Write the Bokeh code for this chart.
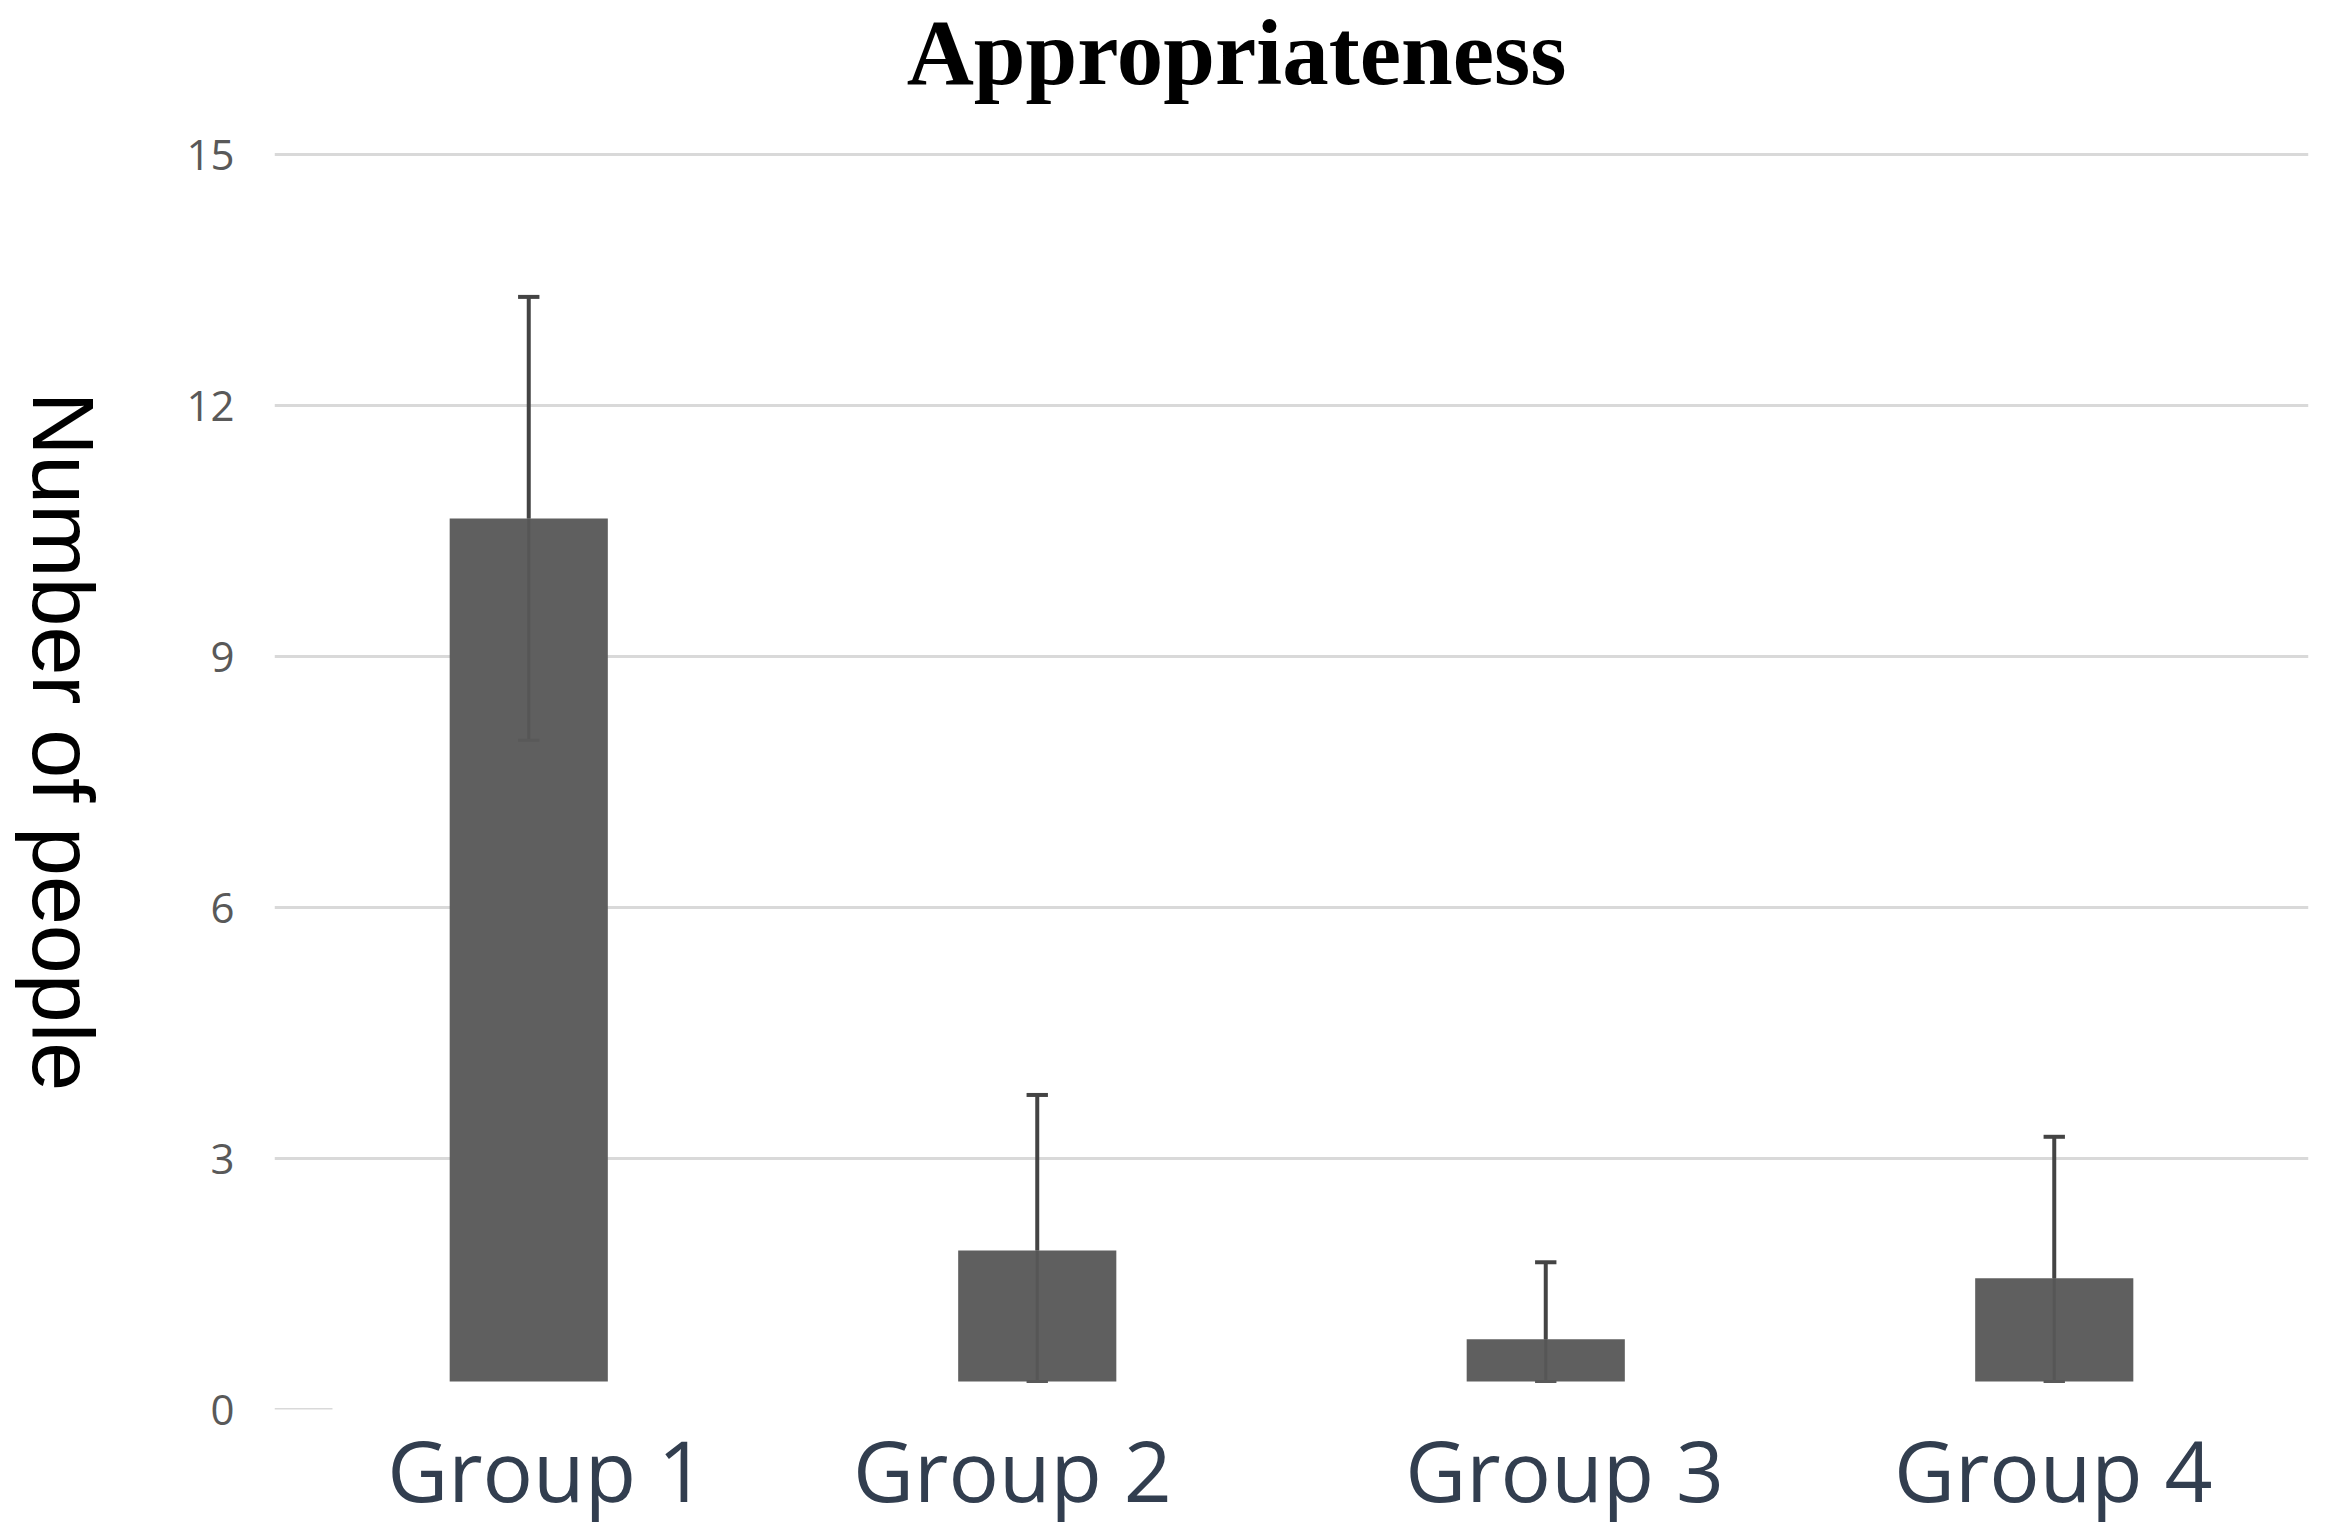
import math
from bokeh.plotting import figure
from bokeh.layouts import row, column
from bokeh.models import Range1d, FixedTicker, ColumnDataSource
from bokeh.core.properties import value
from bokeh.embed import file_html
from bokeh.resources import INLINE

# ---- data ----
groups = ["Group 1", "Group 2", "Group 3", "Group 4"]
means = [10.65, 1.90, 0.84, 1.57]
errors = [2.65, 1.86, 0.92, 1.69]
bar_base = 0.335
y_ticks = [0, 3, 6, 9, 12, 15]
title_text = "Appropriateness"
y_label = "Number of people"

# style: small horizontal shifts of category labels (in category widths)
label_shift = [0.035, -0.049, 0.037, -0.002]

xs = [i + 0.5 for i in range(len(groups))]
upper = [m + e for m, e in zip(means, errors)]
lower = [max(m - e, bar_base) for m, e in zip(means, errors)]
cap_half = 0.021

src = ColumnDataSource(dict(
    x=xs, top=means, up=upper, lo=lower,
    cx0=[x - cap_half for x in xs], cx1=[x + cap_half for x in xs],
))

W = 2340
H = 1531
TOP_H = 110
LEFT_W = 140
BODY_H = H - TOP_H


def blank(w, h):
    f = figure(width=w, height=h, output_backend="svg", toolbar_location=None,
               x_range=Range1d(0, w), y_range=Range1d(0, h),
               x_axis_type=None, y_axis_type=None,
               min_border_left=0, min_border_right=0, min_border_top=0, min_border_bottom=0)
    f.grid.visible = False
    f.outline_line_color = None
    f.title = None
    return f


# title strip
tf = blank(W, TOP_H)
tf.text(x=[1236], y=[58], text=[title_text], text_align="center",
        text_baseline="alphabetic", text_font=value("Liberation Serif"),
        text_font_style="bold", text_font_size="93px", text_color="black")

# left strip holding the rotated y-axis label
lf = blank(LEFT_W, BODY_H)
lf.text(x=[63], y=[754], text=[y_label], angle=-math.pi / 2,
        text_align="center", text_baseline="middle",
        text_font=value("Liberation Sans"), text_font_size="88px", text_color="black")

p = figure(width=W - LEFT_W, height=BODY_H, output_backend="svg", toolbar_location=None,
           x_range=Range1d(0, len(groups)), y_range=Range1d(0, 15.05),
           min_border_left=274 - LEFT_W, min_border_right=32,
           min_border_top=150 - TOP_H, min_border_bottom=122)
p.title = None
p.outline_line_color = None
p.background_fill_color = "white"
p.border_fill_color = "white"

# grid
p.xgrid.visible = False
p.ygrid.ticker = FixedTicker(ticks=y_ticks[1:])
p.ygrid.grid_line_color = "#d9d9d9"
p.ygrid.grid_line_width = 3

# short zero line
p.segment(x0=[0], x1=[0.114], y0=[y_ticks[0]], y1=[y_ticks[0]], line_color="#d9d9d9", line_width=3)

# bars
p.vbar(x="x", top="top", bottom=bar_base, width=0.311, source=src,
       fill_color="#5f5f5f", line_color=None)

# inner (lower) error parts
p.segment(x0="x", x1="x", y0="lo", y1="top", source=src, line_color="#565656", line_width=3)
p.segment(x0="cx0", x1="cx1", y0="lo", y1="lo", source=src, line_color="#595959", line_width=3)
# upper error bars
p.segment(x0="x", x1="x", y0="top", y1="up", source=src, line_color="#444444", line_width=4)
p.segment(x0="cx0", x1="cx1", y0="up", y1="up", source=src, line_color="#444444", line_width=4)

# axes
p.yaxis.ticker = FixedTicker(ticks=y_ticks)
p.yaxis.axis_line_color = None
p.yaxis.major_tick_line_color = None
p.yaxis.minor_tick_line_color = None
p.yaxis.major_tick_out = 0
p.yaxis.major_label_standoff = 40
p.yaxis.major_label_text_font = "Open Sans"
p.yaxis.major_label_text_font_size = "42px"
p.yaxis.major_label_text_color = "#595959"

label_pos = [x + s for x, s in zip(xs, label_shift)]
p.xaxis.ticker = FixedTicker(ticks=label_pos)
p.xaxis.major_label_overrides = {x: g for x, g in zip(label_pos, groups)}
p.xaxis.axis_line_color = None
p.xaxis.major_tick_line_color = None
p.xaxis.minor_tick_line_color = None
p.xaxis.major_tick_out = 0
p.xaxis.major_label_standoff = 2
p.xaxis.major_label_text_font = "Open Sans"
p.xaxis.major_label_text_font_size = "84px"
p.xaxis.major_label_text_color = "#323e4f"

layout = column(tf, row(lf, p, spacing=0), spacing=0)
open("out.html", "w").write(file_html(layout, INLINE))
